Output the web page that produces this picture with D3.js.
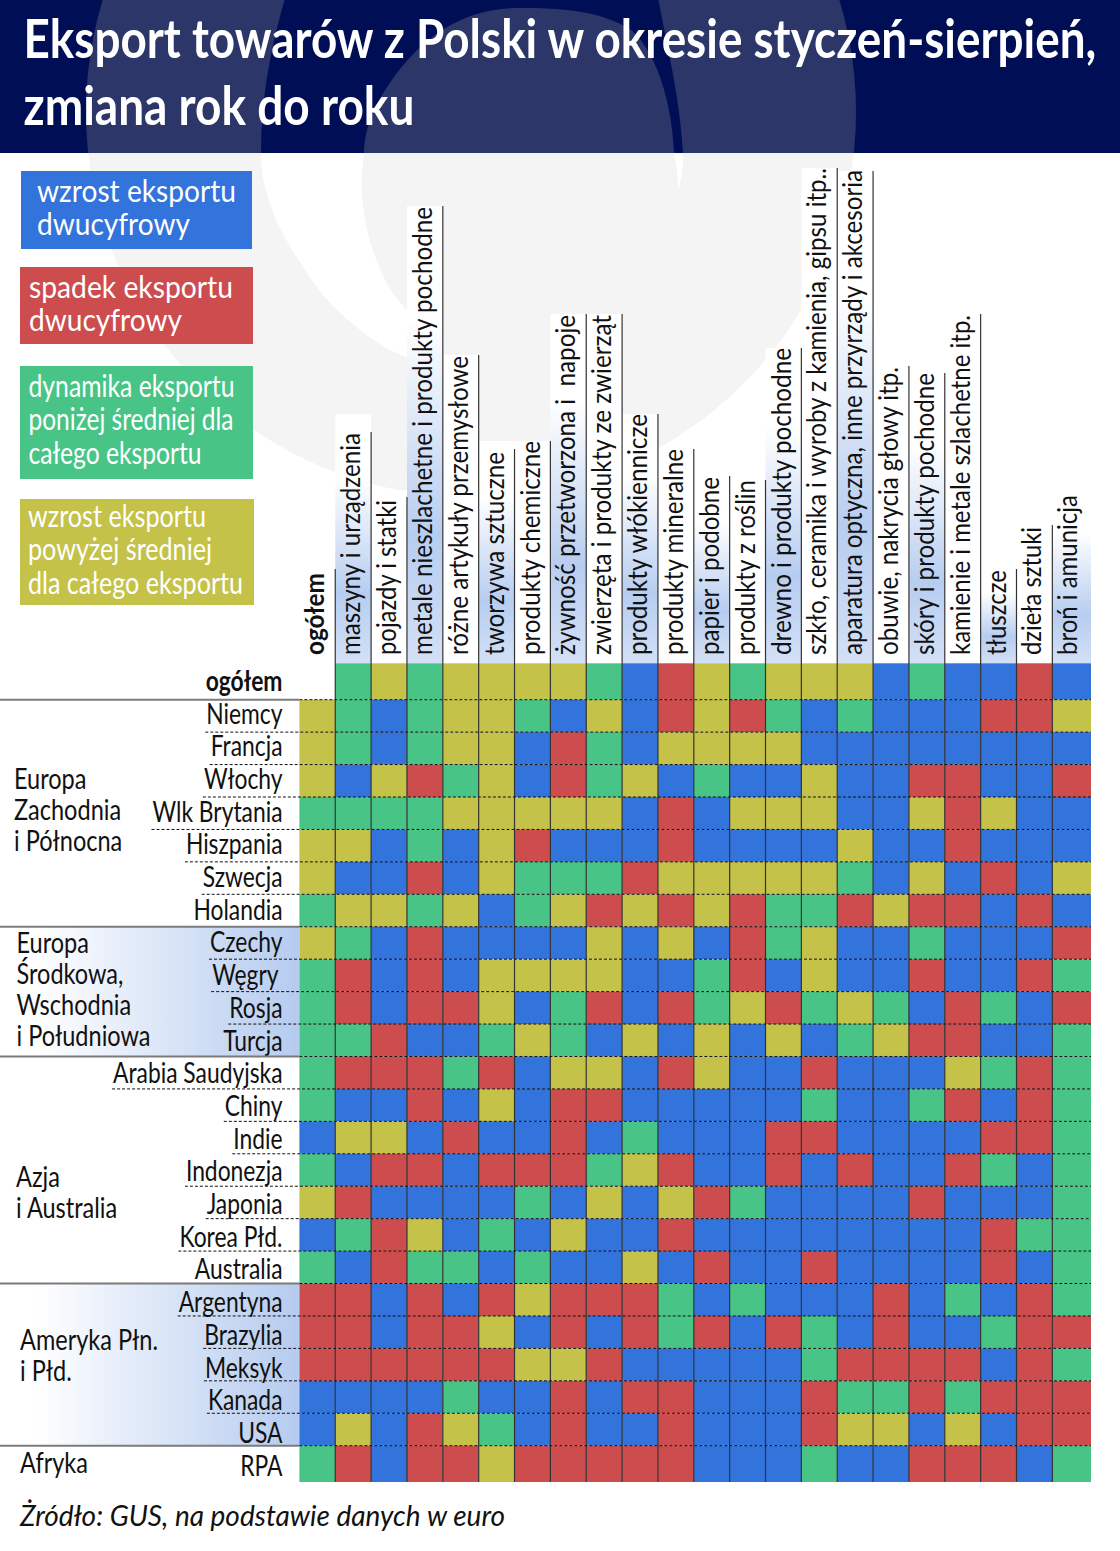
<!DOCTYPE html>
<html>
<head>
<meta charset="utf-8">
<script src="https://d3js.org/d3.v7.min.js"></script>
<style>
  html, body { margin: 0; padding: 0; background: #fff; }
  svg { display: block; }
  text { font-family: Lato, sans-serif; fill: #111; white-space: pre; }
</style>
</head>
<body>
<svg id="frame" width="1120" height="1551"></svg>

<script>
  var titleLines = ["Eksport towarów z Polski w okresie styczeń-sierpień,", "zmiana rok do roku"];
  var source = "Żródło: GUS, na podstawie danych w euro";

  var columns = ["ogółem", "maszyny i urządzenia", "pojazdy i statki", "metale nieszlachetne i produkty pochodne",
    "różne artykuły przemysłowe", "tworzywa sztuczne", "produkty chemiczne", "żywność przetworzona i  napoje",
    "zwierzęta i produkty ze zwierząt", "produkty włókiennicze", "produkty mineralne", "papier i podobne",
    "produkty z roślin", "drewno i produkty pochodne", "szkło, ceramika i wyroby z kamienia, gipsu itp..",
    "aparatura optyczna, inne przyrządy i akcesoria", "obuwie, nakrycia głowy itp.", "skóry i produkty pochodne",
    "kamienie i metale szlachetne itp.", "tłuszcze", "dzieła sztuki", "broń i amunicja"];

  var rows = ["ogółem", "Niemcy", "Francja", "Włochy", "Wlk Brytania", "Hiszpania", "Szwecja", "Holandia",
    "Czechy", "Węgry", "Rosja", "Turcja",
    "Arabia Saudyjska", "Chiny", "Indie", "Indonezja", "Japonia", "Korea Płd.", "Australia",
    "Argentyna", "Brazylia", "Meksyk", "Kanada", "USA", "RPA"];

  // one letter per column: B wzrost dwucyfrowy, R spadek dwucyfrowy, G ponizej sredniej, Y powyzej sredniej
  var cells = [
    "-GYGYYYYGBRYGYYYBGBBRB",
    "YGBGYYGBYBRYRGBGBBBRRY",
    "YGBGYYBRGBYYYYBBBBBBBB",
    "YBYRGYBRGYBGBBYBBRRBBR",
    "GGGGYYYYYBRBYYYBBYRYBB",
    "YYBGBYRBBBRBBBBYBBRBBB",
    "YBBRBYGGGRYYYYYGBYBRBY",
    "GYYGYBGYRYRYRGGRYRRBRB",
    "YGBRBBBBYBYBRGYBBGBBBR",
    "GRBRBYYYYBBGRBYBBRBBRG",
    "GRBRRYBGRBRGYRGYGBRGBR",
    "GGRBBGYGBYBYBYBGYRRBBG",
    "GRRRGRBYYBRYBBRBBBYGRG",
    "GBBRBYBRRBBBBBGBBGRBRG",
    "BYYBRBBRBGBBBRRBBBBRRG",
    "GBRRBRRRGYRBBRBRBBRGBG",
    "YRBBBBGBYBYRGBBBBRBBBG",
    "BGRYBGBYBBRBBBBBBBBRGG",
    "GBRGGBGBBYBRBBRBBBBRBG",
    "RRBRBRYRRRGBGBBBRBGBRG",
    "RRBRRYBRBRGRBRGBRBBGRR",
    "RRRRRRYYRBBBBBGRRRRBRG",
    "BBBBGBBRBRRBBBRGGRGRRR",
    "BYBRYGBRBBRBBBRYYBYBRR",
    "GRBRRYRRRRRBBBGBBRRRBG"
  ];

  var categories = ["B", "R", "G", "Y"];
  var categoryColors = ["#3373DC", "#CD4C4E", "#48C586", "#C4C249"];

  var legendLabels = [
    ["wzrost eksportu", "dwucyfrowy"],
    ["spadek eksportu", "dwucyfrowy"],
    ["dynamika eksportu", "poniżej średniej dla", "całego eksportu"],
    ["wzrost eksportu", "powyżej średniej", "dla całego eksportu"]
  ];

  var groupLabels = [
    ["Europa", "Zachodnia", "i Północna"],
    ["Europa", "Środkowa,", "Wschodnia", "i Południowa"],
    ["Azja", "i Australia"],
    ["Ameryka Płn.", "i Płd."],
    ["Afryka"]
  ];

  // layout
  var legendBoxes = [
    {x: 21, y: 171, w: 231, h: 78, tx: 37, base: [201.5, 234.5], widths: [199, 153]},
    {x: 20, y: 267, w: 233, h: 77, tx: 29, base: [297.5, 330.5], widths: [204, 153]},
    {x: 20, y: 366, w: 233, h: 113, tx: 28.5, base: [396.5, 429.5, 463.5], widths: [206, 205, 173]},
    {x: 20, y: 499, w: 234, h: 106, tx: 28, base: [526.5, 559.5, 593.5], widths: [178, 184, 215]}
  ];
  var groupText = [
    {x: 14, base: [789, 820, 851]},
    {x: 16.5, base: [953, 984, 1015, 1046]},
    {x: 16, base: [1187, 1218]},
    {x: 20, base: [1350, 1381]},
    {x: 20, base: [1473]}
  ];
  var labelTops = [573, 433, 500, 207, 356, 452, 441, 315, 315, 414, 449, 477, 480, 348, 168, 170, 367, 373, 315, 570, 527, 495];
  var lineTops = [569, 432, 497, 206, 355, 449, 441, 314, 314, 414, 449, 476, 480, 348, 168, 171, 366, 373, 314, 569, 525];
  var backTops = [663, 414, 490, 206, 355, 441, 441, 314, 314, 414, 449, 476, 476, 348, 168, 171, 366, 373, 314, 569, 525, 490];
  var rowNudge = {"Węgry": -4};

  var svg = d3.select("#frame");
  var defs = svg.append("defs");

  var colGrad = defs.append("linearGradient").attr("id", "colGrad")
    .attr("x1", "0%").attr("x2", "0%").attr("y1", "0%").attr("y2", "100%");
  colGrad.append("stop").attr("offset", "25%").attr("stop-color", "#fff");
  colGrad.append("stop").attr("offset", "72%").attr("stop-color", "#B7CDF0");
  colGrad.append("stop").attr("offset", "100%").attr("stop-color", "#D3E0F6");

  var rowGrad = defs.append("linearGradient").attr("id", "rowGrad")
    .attr("x1", "0%").attr("x2", "100%").attr("y1", "0%").attr("y2", "0%");
  rowGrad.append("stop").attr("offset", "12%").attr("stop-color", "#fff");
  rowGrad.append("stop").attr("offset", "100%").attr("stop-color", "#B5CBEF");

  defs.append("clipPath").attr("id", "headClip").append("rect")
    .attr("x", 0).attr("y", 0).attr("width", 1120).attr("height", 153);
  defs.append("clipPath").attr("id", "pageClip").append("rect")
    .attr("x", 0).attr("y", 153).attr("width", 1120).attr("height", 1398);

  // logo watermark, same outline in the header and on the page
  var holePath = "M285,-2 L658,-2 C668,50 680,100 683,153 C684,170 680,185 678,190 C678,175 676,165 674,153 " +
    "C672,100 655,50 631,30 C600,10 560,8 518,8 C470,8 420,30 379,100 C370,118 364,135 364,153 C362,175 361,185 362,193 " +
    "C364,240 385,290 407,310 C420,330 430,350 440,365 C425,362 415,360 407,358 C390,350 380,345 369,337 " +
    "C340,315 320,295 303,267 C275,225 261,190 261,153 C261,100 270,50 285,-2 Z";

  function watermark(clipId, base, light) {
    var g = svg.append("g").attr("clip-path", "url(#" + clipId + ")");
    g.append("rect").attr("width", 1120).attr("height", 1551).attr("fill", base);
    g.append("circle").attr("cx", 471).attr("cy", 112).attr("r", 385).attr("fill", light);
    g.append("path").attr("d", holePath).attr("fill", base);
  }
  watermark("pageClip", "#fff", "#F4F4F4");
  watermark("headClip", "#000F55", "#2D3669");

  // squeeze text the way the narrow type in the original is squeezed
  function squeeze(sel, factor) {
    sel.each(function() {
      this.setAttribute("textLength", this.getComputedTextLength() * factor);
      this.setAttribute("lengthAdjust", "spacingAndGlyphs");
    });
  }
  function fitTo(sel, width) {
    sel.attr("textLength", width).attr("lengthAdjust", "spacingAndGlyphs");
  }

  // title, scaled rather than fitted because its natural width is wider than the page
  var titleWidths = [1073, 391];
  titleLines.forEach(function(t, i) {
    var line = svg.append("text").text(t)
      .style("font-size", "53px").style("font-weight", 700)
      .style("fill", "#fff");
    var k = titleWidths[i] / line.node().getComputedTextLength();
    line.attr("transform", "translate(23.5," + (58 + i * 67) + ") scale(" + k + ",1)");
  });

  // legend
  legendBoxes.forEach(function(b, i) {
    svg.append("rect").attr("x", b.x).attr("y", b.y).attr("width", b.w).attr("height", b.h)
      .attr("fill", categoryColors[i]);
    legendLabels[i].forEach(function(t, j) {
      svg.append("text").text(t)
        .attr("x", b.tx).attr("y", b.base[j])
        .style("font-size", "30px").style("fill", "#fff")
        .call(fitTo, b.widths[j]);
    });
  });

  // scales: x for the columns, y for the country rows between "ogółem" and RPA
  var x = d3.scaleBand().domain(columns).range([299.4, 1088.2]);
  var y = d3.scaleBand().domain(rows.slice(1, -1)).range([699.7, 1445.7]);
  // the row names sit on a slightly wider pitch than the cells
  var rowBase = d3.scaleLinear().domain([1, 23]).range([723.5, 1443]);
  var gridTop = 663.3, gridBottom = 1482, gridRight = 1091;

  function colLeft(i) { return x(columns[i]); }
  function colRight(i) { return i == columns.length - 1 ? gridRight : colLeft(i) + x.bandwidth(); }
  function rowTop(i) {
    if (i == 0) return gridTop;
    if (i == rows.length - 1) return y.range()[1];
    return y(rows[i]);
  }
  function rowBottom(i) {
    if (i == rows.length - 1) return gridBottom;
    return i == 0 ? y.range()[0] : y(rows[i]) + y.bandwidth();
  }

  // blue bands behind two region groups
  [[8, 11], [19, 23]].forEach(function(r) {
    svg.append("rect").attr("x", 0).attr("width", 299.4)
      .attr("y", rowTop(r[0])).attr("height", rowBottom(r[1]) - rowTop(r[0]))
      .attr("fill", "url(#rowGrad)");
  });

  // column label backgrounds, every other one blue
  svg.append("g").selectAll("rect")
    .data(columns.slice(1))
    .enter().append("rect")
    .attr("x", function(d, i) { return colLeft(i + 1); })
    .attr("width", function(d, i) { return colRight(i + 1) - colLeft(i + 1); })
    .attr("y", function(d, i) { return backTops[i + 1]; })
    .attr("height", function(d, i) { return gridTop - backTops[i + 1]; })
    .attr("fill", function(d, i) { return i % 2 == 0 ? "url(#colGrad)" : "#fff"; });

  // cells
  var color = d3.scaleOrdinal().domain(categories).range(categoryColors);
  var cellData = [];
  cells.forEach(function(line, r) {
    line.split("").forEach(function(c, k) {
      if (c != "-") cellData.push({r: r, k: k, c: c});
    });
  });
  svg.append("g").selectAll("rect")
    .data(cellData)
    .enter().append("rect")
    .attr("x", function(d) { return colLeft(d.k); })
    .attr("y", function(d) { return rowTop(d.r); })
    .attr("width", function(d) { return colRight(d.k) - colLeft(d.k); })
    .attr("height", function(d) { return rowBottom(d.r) - rowTop(d.r); })
    .attr("fill", function(d) { return color(d.c); });

  // vertical lines, from the top of each label down through the grid
  svg.append("g").selectAll("line")
    .data(lineTops)
    .enter().append("line")
    .attr("x1", function(d, i) { return colRight(i); })
    .attr("x2", function(d, i) { return colRight(i); })
    .attr("y1", function(d) { return d; })
    .attr("y2", gridBottom)
    .attr("stroke", "#333").attr("stroke-width", 1.2);

  // column labels
  svg.append("g").selectAll("text")
    .data(columns)
    .enter().append("text")
    .text(function(d) { return d; })
    .attr("transform", function(d, i) { return "translate(" + (colLeft(i) + 25) + ",655) rotate(-90)"; })
    .style("font-size", "26px")
    .style("font-weight", function(d, i) { return i == 0 ? 700 : 400; })
    .each(function(d, i) { d3.select(this).call(fitTo, 655 - labelTops[i]); });

  // row labels
  var labelLeft = [];
  svg.append("g").selectAll("text")
    .data(rows)
    .enter().append("text")
    .text(function(d) { return d; })
    .attr("text-anchor", "end")
    .attr("x", function(d) { return 282.5 + (rowNudge[d] || 0); })
    .attr("y", function(d, i) { return i == 0 ? 691 : rowBase(i); })
    .style("font-size", "28px")
    .style("font-weight", function(d, i) { return i == 0 ? 700 : 400; })
    .call(squeeze, 0.815)
    .each(function(d) { labelLeft.push(282.5 + (rowNudge[d] || 0) - this.textLength.baseVal.value); });

  // dashed rule under each row, from the left of its label across the grid
  var solidAfter = [0, 7, 11, 18, 23];
  svg.append("g").selectAll("line")
    .data(rows.slice(0, -1))
    .enter().append("line")
    .attr("x1", function(d, i) { return solidAfter.indexOf(i) >= 0 ? 299.4 : labelLeft[i] - 1; })
    .attr("x2", gridRight)
    .attr("y1", function(d, i) { return rowBottom(i); })
    .attr("y2", function(d, i) { return rowBottom(i); })
    .attr("stroke", "#111").attr("stroke-width", 1).attr("stroke-dasharray", "3 2");

  // solid rules between the regions
  svg.append("g").selectAll("line")
    .data(solidAfter)
    .enter().append("line")
    .attr("x1", 0).attr("x2", 299.4)
    .attr("y1", function(d) { return rowBottom(d); })
    .attr("y2", function(d) { return rowBottom(d); })
    .attr("stroke", "#7b7b7b").attr("stroke-width", 2);

  // region labels
  groupLabels.forEach(function(lines, i) {
    lines.forEach(function(t, j) {
      svg.append("text").text(t)
        .attr("x", groupText[i].x).attr("y", groupText[i].base[j])
        .style("font-size", "28px")
        .call(squeeze, 0.84);
    });
  });

  svg.append("text").text(source)
    .attr("x", 20).attr("y", 1526)
    .style("font-size", "28px").style("font-style", "italic")
    .call(fitTo, 485);
</script>
</body>
</html>
